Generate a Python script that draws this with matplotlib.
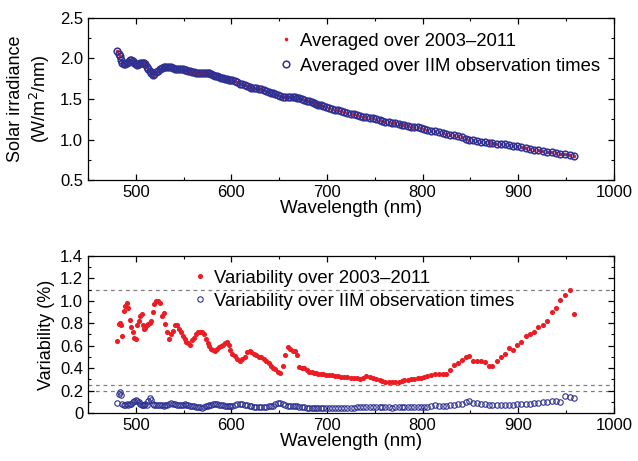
import matplotlib
matplotlib.use("Agg")
import matplotlib.pyplot as plt
from matplotlib.ticker import MultipleLocator

plt.rcParams['font.family'] = ['Liberation Sans', 'DejaVu Sans']

# wavelength grid of the spectra (nm)
wavelength = [
    480, 482, 483, 485, 486, 488, 489, 491, 492, 494, 495, 497, 498, 500,
    501, 503, 504, 506, 507, 509, 510, 512, 513, 515, 516, 518, 519,
    521, 523, 525, 527, 529, 531, 533, 535, 537, 539, 541, 543, 545, 547,
    549, 551, 553, 555, 557, 559, 561, 563, 565, 567, 569, 571, 573, 575,
    577, 579, 581, 583, 585, 587, 589, 591, 593, 595, 597, 599,
    601, 604, 606, 609, 611, 614, 616, 619, 621, 624, 626, 629, 631, 634,
    636, 639, 641, 644, 646, 649, 651, 654, 656, 659, 661, 664, 666, 669,
    671, 674, 676, 679, 681, 684, 686, 689, 691, 694, 696, 699,
    702, 705, 708, 712, 715, 718, 721, 725, 728, 731, 735, 738, 741, 745,
    748, 751, 755, 758, 761, 765, 768, 771, 775, 778, 781, 785, 788, 791,
    795, 798,
    801, 805, 809, 813, 817, 821, 825, 829, 833, 837, 841, 845, 849, 853,
    857, 861, 865, 869, 873, 878, 882, 886, 890, 895, 899, 903, 908, 912,
    917, 921, 926, 930, 935, 940, 944, 949, 954, 958]

# solar irradiance averaged over 2003-2011 (W/m2/nm)
irr_all = [
    2.09, 2.06, 2.03, 1.98, 1.95, 1.93, 1.93, 1.95, 1.96, 1.98, 1.98, 1.97, 1.95, 1.93,
    1.92, 1.93, 1.94, 1.95, 1.95, 1.94, 1.93, 1.90, 1.87, 1.84, 1.82, 1.80, 1.81,
    1.83, 1.85, 1.87, 1.88, 1.89, 1.90, 1.90, 1.90, 1.89, 1.88, 1.87, 1.87, 1.87, 1.87,
    1.87, 1.86, 1.86, 1.85, 1.84, 1.83, 1.83, 1.82, 1.82, 1.82, 1.82, 1.82, 1.82, 1.82,
    1.82, 1.81, 1.80, 1.79, 1.78, 1.77, 1.76, 1.76, 1.75, 1.75, 1.74, 1.73,
    1.73, 1.72, 1.71, 1.69, 1.68, 1.67, 1.66, 1.65, 1.64, 1.64, 1.63, 1.62, 1.62, 1.61,
    1.60, 1.59, 1.58, 1.57, 1.56, 1.55, 1.54, 1.53, 1.52, 1.52, 1.52, 1.52, 1.52, 1.51,
    1.51, 1.50, 1.49, 1.48, 1.47, 1.46, 1.45, 1.44, 1.43, 1.42, 1.41, 1.40,
    1.39, 1.38, 1.37, 1.36, 1.35, 1.34, 1.33, 1.32, 1.31, 1.30, 1.29, 1.28, 1.275, 1.27,
    1.26, 1.25, 1.24, 1.23, 1.22, 1.21, 1.205, 1.20, 1.19, 1.185, 1.18, 1.17, 1.16, 1.155,
    1.15, 1.14,
    1.13, 1.12, 1.11, 1.10, 1.09, 1.08, 1.07, 1.06, 1.05, 1.04, 1.03, 1.01, 1.00, 0.99,
    0.98, 0.97, 0.965, 0.96, 0.955, 0.95, 0.945, 0.94, 0.935, 0.925, 0.915, 0.905, 0.895, 0.885,
    0.875, 0.865, 0.86, 0.85, 0.84, 0.83, 0.825, 0.815, 0.81, 0.80]

# averaged over IIM observation times: indistinguishable from the above at this scale
irr_iim = list(irr_all)

# variability over 2003-2011 (%)
var_all = [
    0.64, 0.79, 0.80, 0.78, 0.69, 0.91, 0.95, 0.98, 0.94, 0.83, 0.77, 0.72, 0.67, 0.66,
    0.78, 0.82, 0.86, 0.88, 0.78, 0.75, 0.76, 0.78, 0.79, 0.80, 0.82, 0.90, 0.97,
    1.00, 1.00, 0.98, 0.86, 0.89, 0.79, 0.72, 0.66, 0.70, 0.73, 0.78, 0.78, 0.75, 0.72,
    0.69, 0.66, 0.63, 0.62, 0.61, 0.65, 0.67, 0.70, 0.72, 0.72, 0.72, 0.70, 0.66, 0.62,
    0.60, 0.57, 0.56, 0.55, 0.57, 0.59, 0.60, 0.61, 0.62, 0.63, 0.61, 0.56,
    0.53, 0.51, 0.48, 0.46, 0.48, 0.50, 0.54, 0.55, 0.54, 0.53, 0.52, 0.50, 0.50, 0.48,
    0.46, 0.45, 0.42, 0.40, 0.39, 0.37, 0.36, 0.42, 0.52, 0.59, 0.57, 0.55, 0.55, 0.52,
    0.41, 0.40, 0.40, 0.38, 0.37, 0.365, 0.36, 0.355, 0.35, 0.35, 0.345, 0.34,
    0.34, 0.335, 0.33, 0.33, 0.325, 0.32, 0.32, 0.315, 0.31, 0.31, 0.30, 0.31, 0.33, 0.32,
    0.31, 0.30, 0.29, 0.285, 0.28, 0.275, 0.275, 0.28, 0.28, 0.285, 0.29, 0.295, 0.30, 0.305,
    0.31, 0.315,
    0.32, 0.33, 0.34, 0.345, 0.345, 0.345, 0.35, 0.38, 0.43, 0.45, 0.47, 0.50, 0.51, 0.46,
    0.46, 0.46, 0.455, 0.42, 0.42, 0.46, 0.50, 0.53, 0.58, 0.56, 0.61, 0.63, 0.69, 0.70,
    0.72, 0.77, 0.78, 0.82, 0.90, 0.94, 1.01, 1.05, 1.10, 0.88]

# variability over IIM observation times (%)
var_iim = [
    0.09, 0.17, 0.19, 0.16, 0.08, 0.07, 0.075, 0.08, 0.075, 0.08, 0.085, 0.10, 0.11, 0.12,
    0.11, 0.10, 0.08, 0.07, 0.07, 0.075, 0.08, 0.07, 0.11, 0.13, 0.12, 0.08, 0.075,
    0.07, 0.07, 0.075, 0.07, 0.065, 0.07, 0.075, 0.08, 0.09, 0.085, 0.08, 0.075, 0.07, 0.07,
    0.075, 0.08, 0.075, 0.07, 0.065, 0.06, 0.06, 0.055, 0.05, 0.05, 0.045, 0.05, 0.06, 0.065,
    0.07, 0.075, 0.08, 0.085, 0.08, 0.075, 0.07, 0.07, 0.065, 0.065, 0.06, 0.06,
    0.065, 0.07, 0.08, 0.085, 0.08, 0.075, 0.07, 0.065, 0.06, 0.055, 0.05, 0.055, 0.055, 0.055,
    0.055, 0.06, 0.06, 0.065, 0.08, 0.09, 0.09, 0.085, 0.07, 0.06, 0.06, 0.065, 0.065, 0.06,
    0.055, 0.05, 0.05, 0.045, 0.045, 0.045, 0.045, 0.045, 0.045, 0.045, 0.045, 0.045,
    0.045, 0.045, 0.045, 0.045, 0.045, 0.045, 0.045, 0.045, 0.045, 0.05, 0.055, 0.055, 0.055, 0.05,
    0.05, 0.055, 0.05, 0.055, 0.05, 0.05, 0.045, 0.05, 0.05, 0.05, 0.055, 0.055, 0.055, 0.055,
    0.055, 0.055,
    0.055, 0.055, 0.06, 0.07, 0.065, 0.065, 0.065, 0.07, 0.075, 0.08, 0.085, 0.095, 0.11, 0.09,
    0.09, 0.08, 0.08, 0.075, 0.075, 0.075, 0.075, 0.075, 0.07, 0.075, 0.08, 0.08, 0.085, 0.085,
    0.09, 0.09, 0.095, 0.10, 0.105, 0.11, 0.10, 0.15, 0.14, 0.13]

ref_lines = [1.1, 0.25, 0.2]
var_ticks = [0, 0.2, 0.4, 0.6, 0.8, 1.0, 1.2, 1.4]
var_ticklabels = ['0', '0.2', '0.4', '0.6', '0.8', '1.0', '1.2', '1.4']

red = '#ed1c24'
blue = '#2e3192'

fig = plt.figure(figsize=(6.38, 4.61), dpi=100)
ax1 = fig.add_axes([0.138, 0.6095, 0.824, 0.3515])
ax2 = fig.add_axes([0.138, 0.104, 0.824, 0.341])

#top panel: solar irradiance
ax1.plot(wavelength, irr_all, 'o', color=red, ms=2.6, mew=0,
         label='Averaged over 2003\u20132011')
ax1.plot(wavelength, irr_iim, 'o', mfc='none', mec=blue, ms=4.8, mew=1.1,
         label='Averaged over IIM observation times')
ax1.set_xlim(450, 1000)
ax1.set_ylim(0.5, 2.5)
ax1.yaxis.set_major_locator(MultipleLocator(0.5))
ax1.yaxis.set_minor_locator(MultipleLocator(0.25))
ax1.set_xlabel('Wavelength (nm)', fontsize=13.5, labelpad=0)
ax1.set_ylabel('Solar irradiance\n(W/m$^2$/nm)', fontsize=13, labelpad=6)
ax1.legend(loc='upper left', bbox_to_anchor=(0.335, 1.0), frameon=False,
           fontsize=13.3, numpoints=1, handlelength=0.8, handletextpad=0.35,
           labelspacing=0.42, borderaxespad=0.4)

#bottom panel: variability
for y in ref_lines:
    ax2.axhline(y, color='#7f7f7f', lw=0.9, ls=(0, (3, 3)), zorder=1)
ax2.plot(wavelength, var_all, 'o', color=red, ms=3.7, mew=0,
         label='Variability over 2003\u20132011')
ax2.plot(wavelength, var_iim, 'o', mfc='none', mec=blue, ms=3.9, mew=0.8,
         label='Variability over IIM observation times')
ax2.set_xlim(450, 1000)
ax2.set_ylim(0, 1.4)
ax2.set_yticks(var_ticks)
ax2.set_yticklabels(var_ticklabels)
ax2.yaxis.set_minor_locator(MultipleLocator(0.1))
ax2.set_xlabel('Wavelength (nm)', fontsize=13.5, labelpad=0)
ax2.set_ylabel('Variability (%)', fontsize=13, labelpad=4)
ax2.legend(loc='upper left', bbox_to_anchor=(0.172, 1.0), frameon=False,
           fontsize=13.3, numpoints=1, handlelength=0.8, handletextpad=0.35,
           labelspacing=0.32, borderaxespad=0.35)

for ax in (ax1, ax2):
    ax.xaxis.set_major_locator(MultipleLocator(100))
    ax.xaxis.set_minor_locator(MultipleLocator(50))
    ax.tick_params(which='both', direction='in', top=True, right=True,
                   labelsize=12)
    ax.tick_params(which='major', length=4, width=0.9)
    ax.tick_params(which='minor', length=2.5, width=0.8)
    for s in ax.spines.values():
        s.set_linewidth(0.9)

fig.savefig('out.png', dpi=100)
